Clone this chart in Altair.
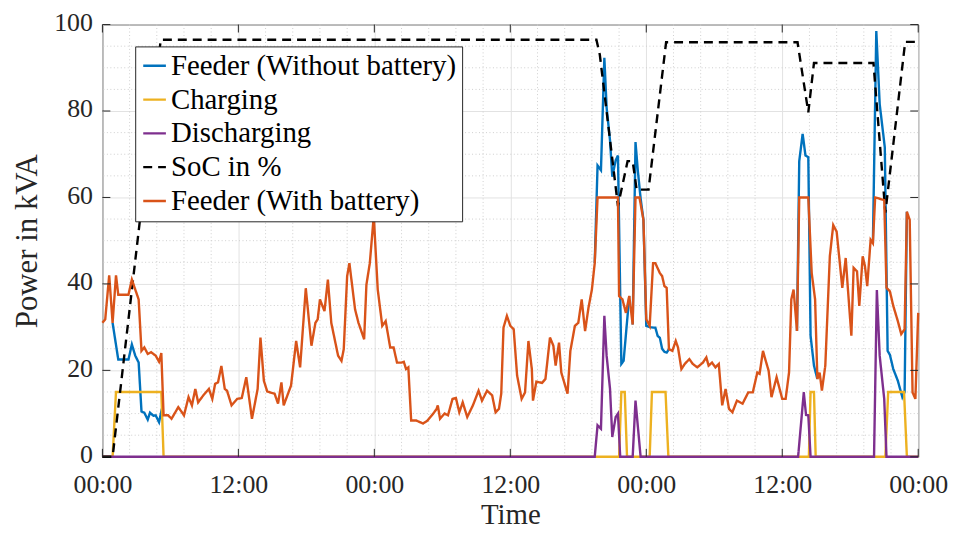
import altair as alt
import pandas as pd

# ---------------- data (hours since start, kVA / %) ----------------
with_t = [0.0, 0.25, 0.6, 0.9, 1.2, 1.4, 2.3, 2.6, 2.9, 3.2, 3.45, 3.7, 4.0, 4.3, 4.7, 5.0, 5.2, 5.4, 5.8, 6.1,
          6.7, 7.2, 7.6, 7.9, 8.2, 8.45, 8.9, 9.4, 9.7, 9.95, 10.2, 10.5, 10.8, 11.0, 11.4, 11.9, 12.3, 12.7, 13.2,
          13.7, 13.95, 14.25, 14.55, 15.2, 15.5, 15.8, 16.0, 16.65, 17.1, 17.45, 17.95, 18.45, 18.8, 19.0, 19.2,
          19.6, 19.9, 20.2, 20.8, 21.1, 21.3, 21.6, 21.8, 22.3, 22.6, 23.1, 23.3, 23.6, 23.95, 24.3, 24.7, 25.0,
          25.4, 25.7, 26.0, 26.4, 26.6, 26.8, 27.0, 27.25, 27.7, 28.3, 28.7, 29.2, 29.5, 29.6, 29.8, 30.2, 30.5,
          30.9, 31.2, 31.5, 31.8, 32.2, 32.7, 33.2, 33.5, 33.95, 34.4, 34.7, 35.0, 35.2, 35.4, 35.7, 36.0, 36.3,
          36.6, 37.0, 37.3, 37.6, 37.9, 38.0, 38.3, 38.8, 39.1, 39.5, 39.8, 40.0, 40.3, 40.5, 41.05, 41.3, 41.7,
          42.0, 42.3, 42.6, 42.9, 43.2, 43.45, 43.7, 45.5, 45.6, 45.9, 46.2, 46.5, 46.8, 47.05, 47.4, 47.75, 48.0,
          48.3, 48.6, 48.8, 49.2, 49.4, 49.6, 49.8, 50.0, 50.3, 50.6, 50.8, 51.1, 51.4, 51.8, 52.1, 52.5, 53.0,
          53.3, 53.5, 53.8, 54.1, 54.4, 54.7, 55.0, 55.3, 55.6, 56.0, 56.5, 57.0, 57.4, 57.8, 58.0, 58.3, 58.5,
          58.8, 59.05, 59.5, 60.0, 60.3, 60.6, 60.8, 61.0, 61.3, 61.5, 62.3, 62.6, 62.9, 63.1, 63.3, 63.5, 63.8,
          64.2, 64.5, 64.8, 65.3, 65.6, 65.8, 66.1, 66.3, 66.6, 66.8, 67.1, 67.3, 67.5, 67.8, 68.0, 68.2, 69.0,
          69.2, 69.5, 69.8, 70.2, 70.5, 70.8, 71.0, 71.25, 71.5, 71.75, 72.0]
with_v = [31, 31.8, 42, 31, 42, 37.5, 37.5, 41, 38.7, 36.4, 24.5, 25.3, 23.8, 24.2, 23.4, 22, 24, 9.6, 9.6, 8.8,
          11.5, 9.6, 13.8, 11.9, 15.7, 12.6, 14.2, 15.7, 13.4, 16.9, 17.2, 21, 15.7, 15.3, 11.9, 13.4, 13.6, 18.4, 8.8,
          15.7, 27.6, 17.6, 15.1, 14.6, 12.3, 17.2, 11.9, 16.5, 26.8, 20.7, 39.0, 25.7, 31, 31.8, 36.4,
          33.7, 41, 31, 23.4, 22.2, 24.9, 41.8, 44.8, 34.1, 31, 27.2, 39.8, 44.8, 55.7, 38.7, 30.3, 31.4,
          25.3, 25.3, 21.8, 21.8, 22.0, 20.3, 20.7, 8.4, 8.4, 7.7, 8.4, 10.0, 11.1, 11.9, 8.8, 10.0, 9.6,
          13.4, 13.6, 10.3, 12.6, 9.2, 11.9, 15.3, 13.0, 15.3, 14.2, 10.3, 11.1, 14.6, 29.9, 32.6, 30.3, 29.5,
          18.8, 13.4, 14.9, 26.8, 20.3, 13.0, 17.4, 17.1, 18.0, 27.6, 25.7, 21.1, 26.4, 19.5, 14.6, 24.5, 30.3,
          31.0, 36.4, 29.1, 34.5, 38.7, 44.8, 60, 60, 37.2, 36.4, 33.3, 37.2, 30.6, 60, 60, 54.8, 31.8,
          30.3, 44.8, 44.8, 42.5, 41.8, 39.5, 39.1, 24.9, 24.5, 26.8, 25.3, 20.3, 21.5, 22.6, 21.5, 20.7, 21.8,
          23.0, 21.1, 21.8, 20.7, 21.5, 11.9, 15.7, 11.1, 10.3, 13.0, 12.3, 14.9, 14.9, 19.5, 19.2, 24.5, 22.6,
          19.9, 13.8, 18.4, 13.4, 13.4, 19.5, 36.4, 38.7, 29.1, 60, 60, 42.5, 36.4, 18.0, 19.5, 15.3, 21.1,
          46.4, 53.6, 52.1, 39.1, 46.0, 38.7, 28.0, 43.7, 42.9, 34.9, 46.4, 44.1, 39.5, 50.2, 49.4, 60, 59.4,
          39.1, 38.3, 34.9, 31.4, 28.4, 29.5, 56.7, 54.8, 14.9, 13.4, 33.3]

# Feeder without battery: only the stretches where it differs from the feeder with battery
without_t = [0.9, 1.4, 2.3, 2.6, 2.9, 3.2, 3.45, 3.7, 4.0, 4.2, 4.5, 4.7, 5.0, 5.2, 5.4,
             43.45, 43.7, 44.0, 44.3, 44.5, 44.8, 45.0, 45.3, 45.5, 45.8, 46.0, 46.5,
             46.8, 47.05, 47.25, 47.5, 47.75, 48.0, 48.3, 48.6, 48.8, 49.0, 49.2, 49.4, 49.6, 49.8, 50.0,
             61.3, 61.5, 61.8, 62.05, 62.3, 62.5, 62.8, 63.1,
             68.0, 68.3, 68.6, 69.05, 69.3, 69.5, 69.8, 70.2, 70.6, 70.8, 71.0]
without_v = [31, 22.5, 22.5, 26, 23.4, 21.8, 10.5, 10.2, 8.6, 10.2, 9.5, 9.6, 8.0, 10.5, 9.6,
             44.8, 67.4, 66.3, 92.3, 80.8, 73.2, 64.8, 68.6, 69.7, 21.5, 22.2, 37.2,
             30.6, 72.8, 66.3, 59.8, 54.8, 30.3, 30.0, 29.9, 29.9, 28.0, 27.5, 25.0, 24.3, 24.1, 24.9,
             29.1, 68.4, 74.7, 69.7, 69.3, 28.0, 21.1, 18.0,
             49.4, 98.5, 81.6, 71.6, 24.5, 23.6, 20.3, 17.6, 13.8, 15.0, 56.7]
without_seg = [1] * 15 + [2] * 12 + [3] * 15 + [4] * 8 + [5] * 11

charge_t = [0, 0.9, 1.2, 5.2, 5.4, 45.6, 45.8, 46.1, 46.3, 48.3, 48.5, 49.7, 49.95,
            62.35, 62.5, 62.8, 62.95, 69.1, 69.35, 70.75, 71.0, 72]
charge_v = [0, 0, 15, 15, 0, 0, 15, 15, 0, 0, 15, 15, 0,
            0, 15, 15, 0, 0, 15, 15, 0, 0]

discharge_t = [0, 43.45, 43.7, 44.0, 44.3, 44.5, 44.8, 45.0, 45.3, 45.5, 45.7, 46.8, 47.05, 47.5,
               61.4, 61.9, 62.1, 62.3, 62.5, 68.1, 68.35, 68.6, 69.0, 69.2, 72]
discharge_v = [0, 0, 7.3, 6.5, 32.6, 23.4, 15.7, 4.6, 9.2, 10.0, 0, 0, 13.0, 0,
               0, 14.9, 9.7, 9.6, 0, 0, 38.6, 23.4, 13.4, 0, 0]

soc_t = [0, 0.9, 5.15, 43.6, 43.9, 45.5, 46.35, 46.8, 47.15, 48.2, 49.75, 61.35, 62.3, 62.8,
         68.05, 69.1, 70.85, 72]
soc_v = [0, 0, 96.5, 96.5, 93, 58, 68.4, 68.4, 61.8, 61.8, 95.9, 95.9, 79.7, 91.1,
         91.1, 56.5, 96.0, 96.0]

series_names = ["Feeder (Without battery)", "Charging", "Discharging", "SoC in %", "Feeder (With battery)"]
series_colors = ["#0072BD", "#EDB120", "#7E2F8E", "#000000", "#D95319"]
series_dash = [[1, 0], [1, 0], [1, 0], [9, 6], [1, 0]]

x_ticks = [0, 12, 24, 36, 48, 60, 72]
y_ticks = [0, 20, 40, 60, 80, 100]
x_minor = [a + b * 2.4 for a in x_ticks[:-1] for b in range(1, 5)]
y_minor = [a + b * 5 for a in y_ticks[:-1] for b in range(1, 4)]

# ---------------- styling ----------------
FONT = "Liberation Serif"
INK = "#262626"
LW = 2.4

xscale = alt.Scale(domain=[0, 72], nice=False, zero=False)
yscale = alt.Scale(domain=[0, 100], nice=False, zero=False)

xaxis = alt.Axis(values=x_ticks, title="Time",
                 labelExpr="datum.value % 24 == 0 ? '00:00' : '12:00'",
                 grid=True, gridColor="#e2e2e2", gridWidth=1, ticks=False, domain=False,
                 labelFont=FONT, labelFontSize=26, labelColor=INK, labelPadding=15,
                 labelFlush=False, labelOverlap=False,
                 titleFont=FONT, titleFontSize=29, titleFontWeight="normal", titleColor=INK,
                 titlePadding=3.6)
yaxis = alt.Axis(values=y_ticks, title="Power in kVA",
                 grid=True, gridColor="#e2e2e2", gridWidth=1, ticks=False, domain=False,
                 labelFont=FONT, labelFontSize=26, labelColor=INK, labelPadding=10,
                 labelOffset=-2, labelFlush=False, labelOverlap=False,
                 titleFont=FONT, titleFontSize=31, titleFontWeight="normal", titleColor=INK,
                 titlePadding=10)

X = alt.X("t:Q", scale=xscale, axis=xaxis)
Y = alt.Y("v:Q", scale=yscale, axis=yaxis)

legend = alt.Legend(orient="none", legendX=33, legendY=22, title=None, direction="vertical",
                    symbolType="stroke", symbolSize=520, symbolStrokeWidth=LW,
                    labelFont=FONT, labelFontSize=29, labelColor="black", labelLimit=500,
                    labelOffset=2, strokeColor=INK, fillColor="white", padding=5,
                    rowPadding=4, cornerRadius=0)
C = alt.Color("series:N", scale=alt.Scale(domain=series_names, range=series_colors), legend=legend)
D = alt.StrokeDash("series:N", scale=alt.Scale(domain=series_names, range=series_dash), legend=legend)


def frame(ts, vs, name, seg=None):
    df = pd.DataFrame({"t": ts, "v": vs})
    df["series"] = name
    df["seg"] = seg if seg is not None else 0
    return df


def line(df):
    return alt.Chart(df).mark_line(strokeWidth=LW).encode(x=X, y=Y, color=C, strokeDash=D, detail="seg:N")


grid_x = alt.Chart(pd.DataFrame({"t": x_minor})).mark_rule(
    color="#cfcfcf", strokeWidth=1, strokeDash=[1, 2.5]).encode(x=X)
grid_y = alt.Chart(pd.DataFrame({"v": y_minor})).mark_rule(
    color="#cfcfcf", strokeWidth=1, strokeDash=[1, 2.5]).encode(y=Y)

l_without = line(frame(without_t, without_v, series_names[0], without_seg))
l_charge = line(frame(charge_t, charge_v, series_names[1]))
l_dis = line(frame(discharge_t, discharge_v, series_names[2]))
l_soc = line(frame(soc_t, soc_v, series_names[3]))
l_with = line(frame(with_t, with_v, series_names[4]))

# inward tick marks on all four sides
tb = pd.DataFrame({"t": x_ticks, "v": [0] * len(x_ticks)})
tt = pd.DataFrame({"t": x_ticks, "v": [100] * len(x_ticks)})
tl = pd.DataFrame({"t": [0] * len(y_ticks), "v": y_ticks})
tr = pd.DataFrame({"t": [72] * len(y_ticks), "v": y_ticks})
tick_bottom = alt.Chart(tb).mark_rule(color=INK, strokeWidth=1, y2Offset=-8).encode(
    x=X, y=Y, y2=alt.Y2("v"))
tick_top = alt.Chart(tt).mark_rule(color=INK, strokeWidth=1, y2Offset=8).encode(
    x=X, y=Y, y2=alt.Y2("v"))
tick_left = alt.Chart(tl).mark_rule(color=INK, strokeWidth=1, x2Offset=8).encode(
    x=X, x2=alt.X2("t"), y=Y)
tick_right = alt.Chart(tr).mark_rule(color=INK, strokeWidth=1, x2Offset=-8).encode(
    x=X, x2=alt.X2("t"), y=Y)

chart = alt.layer(
    grid_x, grid_y, l_without, l_charge, l_dis, l_soc, l_with,
    tick_bottom, tick_top, tick_left, tick_right
).properties(
    width=821, height=435,
    padding={"left": 95, "top": 15, "right": 34, "bottom": 74},
    autosize=alt.AutoSizeParams(type="none"),
    background="white",
).configure_view(
    stroke=INK, strokeWidth=1
).configure_legend(
    labelFont=FONT
).configure_text(
    font=FONT
)

chart.save("out.html", embed_options={"renderer": "svg", "actions": False})
